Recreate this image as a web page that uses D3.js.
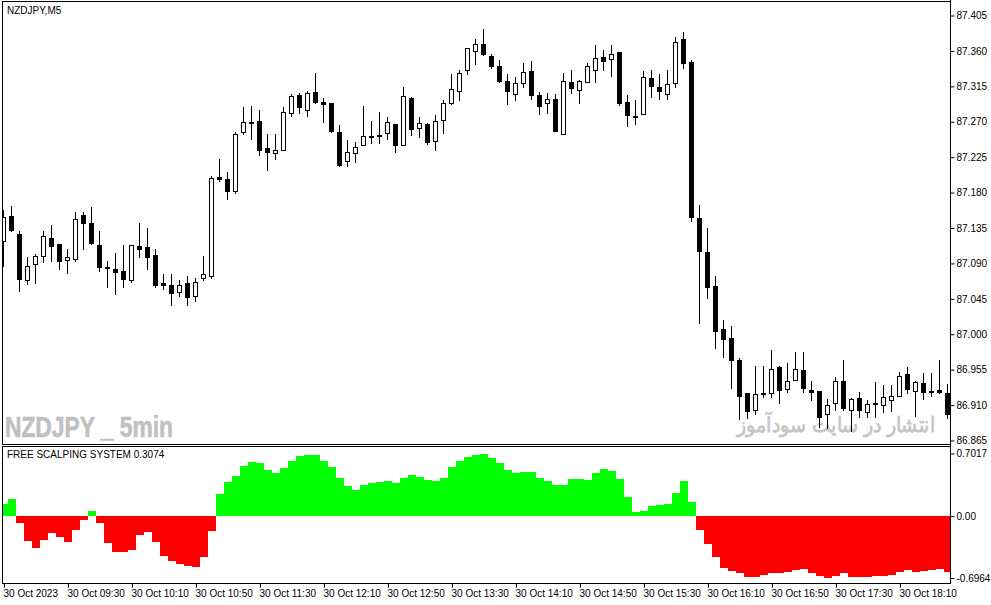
<!DOCTYPE html>
<html><head><meta charset="utf-8">
<script src="https://cdn.jsdelivr.net/npm/d3@7"></script>
<style>
body{margin:0;background:#fff}
svg{display:block}
text{font-family:"Liberation Sans",Arial,sans-serif}
</style>
</head><body>
<svg id="chart" width="991" height="605"></svg>
<script>
// ---- data (NZDJPY M5, 30 Oct 2023) ----
const opens  = [87.118,87.150,87.127,87.069,87.089,87.099,87.122,87.115,87.094,87.096,87.152,87.141,87.113,87.085,87.083,87.080,87.069,87.112,87.111,87.101,87.065,87.063,87.054,87.065,87.049,87.071,87.074,87.200,87.197,87.182,87.257,87.270,87.271,87.237,87.230,87.234,87.281,87.304,87.285,87.308,87.295,87.294,87.257,87.220,87.230,87.240,87.252,87.253,87.256,87.267,87.240,87.300,87.262,87.267,87.246,87.272,87.294,87.309,87.336,87.360,87.369,87.354,87.341,87.322,87.305,87.319,87.334,87.304,87.294,87.299,87.254,87.321,87.310,87.321,87.336,87.352,87.350,87.359,87.295,87.277,87.280,87.326,87.314,87.305,87.319,87.375,87.346,87.148,87.104,87.061,87.007,86.995,86.967,86.925,86.904,86.924,86.925,86.958,86.930,86.942,86.955,86.929,86.928,86.899,86.913,86.941,86.904,86.919,86.901,86.913,86.910,86.916,86.922,86.949,86.928,86.938,86.928,86.929,86.925];
const highs  = [87.158,87.163,87.131,87.098,87.102,87.131,87.139,87.115,87.108,87.155,87.155,87.162,87.131,87.093,87.103,87.113,87.113,87.141,87.135,87.108,87.077,87.077,87.069,87.074,87.071,87.099,87.201,87.223,87.206,87.257,87.289,87.290,87.285,87.254,87.254,87.289,87.305,87.307,87.309,87.332,87.300,87.294,87.266,87.247,87.244,87.290,87.271,87.282,87.276,87.267,87.314,87.301,87.276,87.268,87.279,87.298,87.331,87.336,87.364,87.375,87.388,87.356,87.348,87.331,87.327,87.345,87.347,87.308,87.307,87.305,87.332,87.336,87.323,87.345,87.368,87.361,87.368,87.359,87.304,87.298,87.334,87.336,87.331,87.336,87.378,87.384,87.348,87.164,87.135,87.074,87.018,87.010,86.970,86.925,86.960,86.960,86.980,86.960,86.963,86.977,86.977,86.941,86.928,86.918,86.946,86.967,86.919,86.927,86.916,86.939,86.935,86.935,86.952,86.958,86.941,86.951,86.951,86.967,86.937];
const lows   = [87.087,87.131,87.055,87.064,87.065,87.092,87.093,87.083,87.078,87.093,87.108,87.115,87.080,87.060,87.051,87.060,87.066,87.098,87.083,87.060,87.057,87.037,87.049,87.037,87.042,87.069,87.071,87.195,87.172,87.179,87.254,87.248,87.228,87.209,87.223,87.234,87.277,87.281,87.277,87.294,87.270,87.257,87.214,87.214,87.219,87.240,87.243,87.243,87.248,87.232,87.240,87.253,87.251,87.242,87.234,87.256,87.293,87.298,87.331,87.343,87.355,87.338,87.321,87.293,87.298,87.314,87.299,87.280,87.281,87.258,87.254,87.307,87.294,87.321,87.321,87.336,87.328,87.291,87.265,87.267,87.280,87.301,87.299,87.299,87.314,87.338,87.144,87.014,87.046,86.983,86.971,86.932,86.892,86.894,86.899,86.920,86.920,86.913,86.927,86.942,86.927,86.916,86.882,86.881,86.904,86.904,86.877,86.895,86.895,86.895,86.901,86.902,86.922,86.925,86.896,86.918,86.922,86.925,86.894];
const closes = [87.149,87.132,87.070,87.087,87.099,87.125,87.112,87.093,87.098,87.146,87.141,87.116,87.085,87.084,87.079,87.070,87.113,87.108,87.098,87.063,87.063,87.052,87.063,87.047,87.067,87.077,87.198,87.197,87.182,87.254,87.270,87.268,87.234,87.232,87.234,87.282,87.303,87.289,87.307,87.295,87.293,87.258,87.215,87.232,87.238,87.252,87.251,87.252,87.270,87.240,87.303,87.261,87.268,87.244,87.271,87.294,87.312,87.332,87.364,87.369,87.356,87.341,87.322,87.309,87.319,87.333,87.304,87.290,87.299,87.258,87.322,87.313,87.322,87.341,87.351,87.347,87.356,87.294,87.279,87.276,87.327,87.315,87.309,87.318,87.371,87.345,87.149,87.106,87.060,87.004,86.994,86.967,86.922,86.902,86.924,86.925,86.956,86.929,86.941,86.956,86.932,86.927,86.895,86.910,86.941,86.906,86.918,86.904,86.911,86.912,86.920,86.922,86.947,86.930,86.939,86.927,86.927,86.927,86.899];
const indicator = [0.134,0.19,-0.075,-0.276,-0.365,-0.265,-0.19,-0.231,-0.287,-0.153,-0.045,0.056,-0.075,-0.302,-0.399,-0.399,-0.377,-0.209,-0.179,-0.287,-0.444,-0.511,-0.544,-0.563,-0.578,-0.459,-0.164,0.25,0.38,0.447,0.559,0.604,0.593,0.515,0.481,0.537,0.615,0.675,0.682,0.682,0.615,0.548,0.425,0.336,0.291,0.347,0.369,0.38,0.392,0.369,0.425,0.459,0.436,0.403,0.392,0.425,0.548,0.615,0.66,0.682,0.7017,0.649,0.593,0.515,0.481,0.492,0.492,0.425,0.392,0.347,0.347,0.414,0.414,0.403,0.481,0.526,0.503,0.414,0.213,0.045,0.056,0.112,0.123,0.134,0.257,0.392,0.157,-0.157,-0.313,-0.459,-0.582,-0.615,-0.638,-0.682,-0.682,-0.66,-0.638,-0.638,-0.626,-0.604,-0.593,-0.638,-0.671,-0.6964,-0.671,-0.638,-0.682,-0.682,-0.682,-0.671,-0.671,-0.66,-0.626,-0.604,-0.626,-0.615,-0.604,-0.593,-0.626];
const priceTicks = [87.405,87.360,87.315,87.270,87.225,87.180,87.135,87.090,87.045,87.000,86.955,86.910,86.865];
const indTicks = [0.7017,0,-0.6964];
const indTickLabels = ["0.7017","0.00","-0.6964"];
const timeTickIndex = [0,8,16,24,32,40,48,56,64,72,80,88,96,104,112];
const timeLabels = ["30 Oct 2023","30 Oct 09:30","30 Oct 10:10","30 Oct 10:50","30 Oct 11:30","30 Oct 12:10","30 Oct 12:50","30 Oct 13:30","30 Oct 14:10","30 Oct 14:50","30 Oct 15:30","30 Oct 16:10","30 Oct 16:50","30 Oct 17:30","30 Oct 18:10"];
const symbolTitle = "NZDJPY,M5";
const indicatorTitle = "FREE SCALPING SYSTEM 0.3074";
const watermark1 = "NZDJPY _ 5min";
const watermark2 = "انتشار در سایت سودآموز";

// ---- layout ----
const L = 2.5, R = 950.5, mainTop = 1.5, mainBot = 444.5, indTop = 446.5, indBot = 583.5;
const svg = d3.select("#chart");
const candles = opens.map((o,i)=>({i,o,h:highs[i],l:lows[i],c:closes[i]}));

const x = d3.scaleLinear().domain([0, candles.length-1]).range([3.5, 3.5 + 8*(candles.length-1)]);
const y = d3.scaleLinear().domain([86.865, 87.405]).range([440.5, 15.5]);
const yi = d3.scaleLinear().domain([-0.6964, 0.7017]).range([578, 453.5]);

svg.append("rect").attr("width",991).attr("height",605).attr("fill","#fff");

const defs = svg.append("defs");
defs.append("clipPath").attr("id","cm").append("rect").attr("x",L+0.5).attr("y",mainTop+0.5).attr("width",R-L-1).attr("height",mainBot-mainTop-1);
defs.append("clipPath").attr("id","ci").append("rect").attr("x",L+0.5).attr("y",indTop+0.5).attr("width",R-L-1).attr("height",indBot-indTop-1);

// watermarks
svg.append("text").attr("x",5).attr("y",437).attr("font-family","'DejaVu Sans Condensed','DejaVu Sans',sans-serif")
  .attr("font-weight","bold").attr("font-size",30).attr("fill","#c0c0c0")
  .attr("stroke","#c0c0c0").attr("stroke-width",0.6)
  .attr("textLength",168).attr("lengthAdjust","spacingAndGlyphs").text(watermark1);
svg.append("text").attr("x",737).attr("y",432).attr("font-family","'DejaVu Sans',sans-serif")
  .attr("font-weight","bold").attr("font-size",21).attr("fill","#c6c6c6")
  .attr("textLength",198).attr("lengthAdjust","spacingAndGlyphs").text(watermark2);

// candles
const gC = svg.append("g").attr("clip-path","url(#cm)");
const px = v => Math.round(v);
candles.forEach(d=>{
  const cx = Math.round(x(d.i)-0.5)+0.5;
  const yh = px(y(d.h)), yl = px(y(d.l));
  gC.append("line").attr("x1",cx).attr("x2",cx).attr("y1",yh).attr("y2",yl+1)
    .attr("stroke","#000").attr("stroke-width",1);
  const top = px(y(Math.max(d.o,d.c))), bot = px(y(Math.min(d.o,d.c)));
  if (d.c > d.o) {
    gC.append("rect").attr("x",cx-2).attr("y",top+0.5).attr("width",4).attr("height",Math.max(1,bot-top))
      .attr("fill","#fff").attr("stroke","#000").attr("stroke-width",1);
  } else {
    gC.append("rect").attr("x",cx-2.5).attr("y",top).attr("width",5).attr("height",Math.max(1,bot-top+1))
      .attr("fill","#000").attr("shape-rendering","crispEdges");
  }
});

// indicator histogram
const gI = svg.append("g").attr("clip-path","url(#ci)");
gI.selectAll("rect").data(indicator).join("rect")
  .attr("x",(v,i)=>x(i)-4).attr("width",8)
  .attr("y",v=>Math.min(yi(v),yi(0))).attr("height",v=>Math.abs(yi(v)-yi(0)))
  .attr("fill",v=>v>=0?"#00ff00":"#ff0000").attr("shape-rendering","crispEdges");

// frames
[[mainTop,mainBot],[indTop,indBot]].forEach(([t,b])=>{
  svg.append("rect").attr("x",L).attr("y",t).attr("width",R-L).attr("height",b-t)
    .attr("fill","none").attr("stroke","#000").attr("stroke-width",1);
});
svg.append("line").attr("x1",R).attr("x2",R).attr("y1",0).attr("y2",indBot).attr("stroke","#000");

// price axis
const ay = svg.append("g").attr("transform",`translate(${R},0)`)
  .call(d3.axisRight(y).tickValues(priceTicks).tickFormat(d3.format(".3f")).tickSize(4).tickPadding(2));
ay.select(".domain").remove();
ay.selectAll("text").attr("font-family","'Liberation Sans',Arial,sans-serif").attr("font-size",10).attr("fill","#000");

// indicator axis
const ai = svg.append("g").attr("transform",`translate(${R},0)`)
  .call(d3.axisRight(yi).tickValues(indTicks).tickFormat((d,i)=>indTickLabels[i]).tickSize(4).tickPadding(2));
ai.select(".domain").remove();
ai.selectAll("text").attr("font-family","'Liberation Sans',Arial,sans-serif").attr("font-size",10).attr("fill","#000");

// time axis
const ax = svg.append("g").attr("transform",`translate(0,${indBot})`)
  .call(d3.axisBottom(x).tickValues(timeTickIndex).tickFormat((d,i)=>timeLabels[i]).tickSize(4).tickPadding(2));
ax.select(".domain").remove();
ax.selectAll(".tick line").attr("transform","translate(0.5,0)");
ax.selectAll("text").attr("text-anchor","start").attr("x",-0.5).attr("font-family","'Liberation Sans',Arial,sans-serif")
  .attr("font-size",10).attr("fill","#000");

// titles
svg.append("text").attr("x",7).attr("y",14).attr("font-size",10).attr("fill","#000").text(symbolTitle);
svg.append("text").attr("x",7).attr("y",458).attr("font-size",10).attr("fill","#000").text(indicatorTitle);
</script>
</body></html>
